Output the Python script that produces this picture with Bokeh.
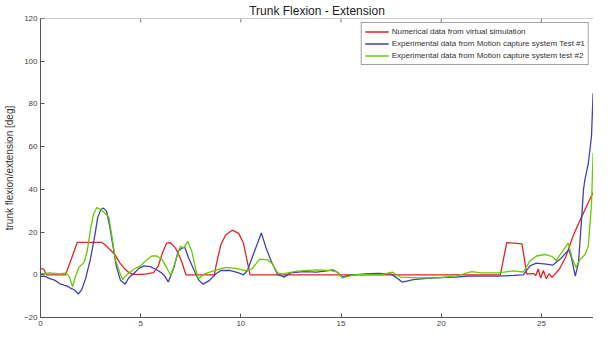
from bokeh.plotting import figure
from bokeh.models import Range1d, FixedTicker, Legend, LegendItem, Span
from bokeh.embed import file_html
from bokeh.resources import INLINE

title = "Trunk Flexion - Extension"
y_label = "trunk flexion/extension [deg]"
x_ticks = [0, 5, 10, 15, 20, 25]
y_ticks = [-20, 0, 20, 40, 60, 80, 100, 120]

names = ["Numerical data from virtual simulation",
         "Experimental data from Motion capture system Test #1",
         "Experimental data from Motion capture system test #2"]

t_red = [0, 0.15, 0.3, 1.25, 1.84, 3.05, 3.22, 3.46, 3.7, 3.95, 4.19, 4.35, 4.6, 5.0, 5.3, 5.64,
         5.88, 6.09, 6.29, 6.47, 6.74, 6.9, 7.06, 7.26, 8.68, 8.76, 9.0, 9.24, 9.57, 9.89, 10.13,
         10.33, 10.46, 22.95, 23.27, 24.03, 24.27, 24.43, 24.62, 24.72, 24.84, 24.96, 25.1, 25.24,
         25.38, 25.53, 25.9, 26.2, 26.6, 27.0, 27.3, 27.58]
y_red = [2.8, 2.8, 0, 0, 15.2, 15.2, 14.1, 11.8, 9.7, 5.7, 2.9, 1.5, 0.2, 0.2, 0.4, 1.0,
         4.2, 10.3, 14.8, 15.1, 12.5, 9.5, 5.7, 0, 0, 4.2, 14.1, 18.6, 20.9, 19.4, 14.8,
         5.7, 0, 0, 15.1, 14.5, 0.3, 0.5, 0.5, -0.3, 2.7, -1.5, 2, -1.8,
         0.5, -1.2, 2.7, 8, 18.6, 27, 33, 38.5]

t_blue = [0, 0.2, 0.47, 0.7, 0.95, 1.2, 1.35, 1.52, 1.68, 1.89, 2.05, 2.25, 2.49, 2.7, 2.86,
          3.02, 3.14, 3.3, 3.46, 3.62, 3.78, 3.99, 4.22, 4.43, 4.67, 4.91, 5.16, 5.48, 5.72,
          6.05, 6.2, 6.38, 6.66, 6.87, 7.06, 7.2, 7.39, 7.71, 7.9, 8.11, 8.44, 8.76, 9.0, 9.49,
          9.89, 10.13, 10.33, 10.62, 11.02, 11.26, 11.51, 11.83, 12.07, 12.15, 12.48, 13.12,
          13.77, 14.3, 14.58, 14.82, 15.06, 15.38, 16.19, 16.84, 17.48, 17.73, 18.05, 18.61,
          19.42, 20.23, 20.72, 21.36, 22.82, 23.62, 24.1, 24.43, 24.75, 25.24, 25.56, 25.97,
          26.37, 26.5, 26.69, 26.85, 27.02, 27.1, 27.18, 27.34, 27.5, 27.58]
y_blue = [-0.8, -0.6, -1.8, -2.5, -4.1, -4.9, -5.3, -6.4, -7, -9, -7.1, -1.8, 7.3, 17.9, 27,
          30.7, 31.2, 29.7, 22.4, 13.3, 4.2, -2.6, -4.4, -1.1, 0.7, 3, 4.2, 3.8, 2.7,
          0.9, -0.6, -3.4, 3.5, 11, 12.5, 12.9, 8, 1.2, -2.5, -4.4, -2.6, 0.5, 2, 2,
          0.9, 0, 2, 9.5, 19.6, 12.5, 6.5, 0.1, -0.6, -1.1, 0.9, 1.5,
          1.2, 1.8, 2.3, 1.2, -1.1, -0.3, 0.4, 0.7, 0.4, -1.1, -3.4, -2.3,
          -1.5, -1.2, -1.1, -0.6, -0.6, -0.3, 0, 4.2, 5.5, 5, 4.5, 7.6,
          11.8, 8, -0.6, 5.7, 28, 40, 45, 52, 65, 85]

t_green = [0, 0.47, 0.95, 1.28, 1.44, 1.6, 1.76, 1.92, 2.17, 2.33, 2.49, 2.65, 2.81, 2.98,
           3.22, 3.41, 3.57, 3.73, 3.95, 4.1, 4.35, 4.67, 4.99, 5.24, 5.56, 5.8, 6.05, 6.25,
           6.5, 6.74, 6.98, 7.14, 7.35, 7.55, 7.71, 7.87, 8.19, 8.68, 9.24, 9.73, 10.21, 10.54,
           10.94, 11.34, 11.58, 11.83, 12.07, 12.8, 13.77, 14.5, 14.82, 15.06, 15.71, 17.0,
           17.57, 17.97, 18.94, 19.91, 20.88, 21.52, 22.0, 22.82, 23.62, 24.1, 24.43, 24.75,
           25.16, 25.56, 25.72, 26.05, 26.34, 26.53, 26.72, 26.94, 27.18, 27.34, 27.5, 27.58]
y_green = [0.4, 0.9, 0.4, 0.9, -1.1, -5.6, -0.3, 3.5, 5.7, 11, 20.9, 28.5, 31.5, 30.7,
           28.8, 27, 17.9, 7.3, 1.2, -2.3, 0.4, 2.7, 4.2, 6.5, 8.8, 8.8, 7.3, 4.2,
           -0.3, 6.5, 13.3, 12.5, 15.6, 11, 4.2, -1.8, 0.4, 2, 3.5, 3, 2, 2.7,
           7.3, 7, 5, 0.9, 0.4, 1.7, 2.3, 2, 1.2, -1.4, 0.1, 0.1,
           1.2, -1.1, -1.4, -1.4, -0.3, 1.5, 0.9, 0.9, 1.8, 1.3, 6.5, 8.8,
           9.5, 8.5, 6.5, 11, 14.8, 8, 3.5, 7.3, 9.5, 13.3, 33, 57]

colors = ["#e62222", "#4040b8", "#66cc00"]
FONT = "Liberation Sans"
Y_MIN, Y_MAX = -20, 120

p = figure(width=593, height=328, x_range=Range1d(0, 27.6), y_range=Range1d(Y_MIN, Y_MAX),
           output_backend="svg", toolbar_location=None, title=title,
           min_border_left=31, min_border_right=0, min_border_top=4, min_border_bottom=0)
p.title.align = "center"
p.title.text_font = FONT
p.title.text_font_size = "12px"
p.title.text_font_style = "normal"
p.title.text_color = "#222222"
p.title.offset = 0
p.title.standoff = 2
p.xgrid.visible = False
p.ygrid.visible = False
p.outline_line_color = None
p.background_fill_color = "white"

for ax in (p.xaxis[0], p.yaxis[0]):
    ax.axis_line_color = "#555555"
    ax.major_tick_line_color = "#555555"
    ax.major_tick_in = 4
    ax.major_tick_out = 0
    ax.minor_tick_in = 0
    ax.minor_tick_out = 0
    ax.major_label_text_font = FONT
    ax.major_label_text_font_size = "8px"
    ax.major_label_text_color = "#444444"
    ax.major_label_standoff = 3
p.xaxis[0].ticker = FixedTicker(ticks=x_ticks)
p.yaxis[0].ticker = FixedTicker(ticks=y_ticks)
p.yaxis[0].axis_label = y_label
p.yaxis[0].axis_label_text_font = FONT
p.yaxis[0].axis_label_text_font_size = "10px"
p.yaxis[0].axis_label_text_font_style = "normal"
p.yaxis[0].axis_label_text_color = "#333333"
p.yaxis[0].axis_label_standoff = 6

# top frame border with inward ticks (MATLAB box style)
p.add_layout(Span(location=Y_MAX, dimension="width", line_color="#999999", line_width=1))
p.segment(x0=x_ticks[1:], x1=x_ticks[1:], y0=[Y_MAX] * 5, y1=[Y_MAX - 1.8] * 5,
          line_color="#777777", line_width=1)

r1 = p.line(t_red, y_red, line_color=colors[0], line_width=1.3)
r2 = p.line(t_blue, y_blue, line_color=colors[1], line_width=1.3)
r3 = p.line(t_green, y_green, line_color=colors[2], line_width=1.3)

legend = Legend(items=[LegendItem(label=names[0], renderers=[r1]),
                       LegendItem(label=names[1], renderers=[r2]),
                       LegendItem(label=names[2], renderers=[r3])],
                location="top_right")
legend.label_text_font = FONT
legend.label_text_font_size = "8px"
legend.label_text_color = "#333333"
legend.label_height = 11
legend.glyph_height = 11
legend.glyph_width = 24
legend.spacing = 1
legend.padding = 3
legend.margin = 4
legend.label_standoff = 3
legend.border_line_color = "#444444"
legend.border_line_width = 1
p.add_layout(legend, "center")

open("out.html", "w").write(file_html(p, INLINE))
